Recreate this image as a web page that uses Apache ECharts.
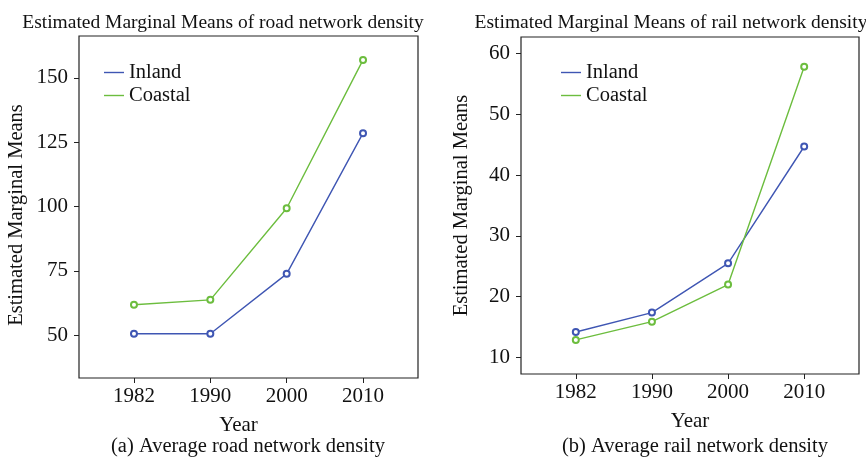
<!DOCTYPE html>
<html>
<head>
<meta charset="utf-8">
<script src="https://cdn.jsdelivr.net/npm/echarts@6/dist/echarts.min.js"></script>
<style>
  html, body { margin: 0; padding: 0; background: #fff; }
  #chart { width: 866px; height: 457px; }
</style>
</head>
<body>
<div id="chart"></div>
<script>
// data
const years = ['1982', '1990', '2000', '2010']
const roadInland = [50.5, 50.5, 73.8, 128.5]
const roadCoastal = [61.8, 63.7, 99.3, 157]
const railInland = [14.2, 17.4, 25.5, 44.7]
const railCoastal = [12.9, 15.9, 22.0, 57.8]
const roadTicks = [50, 75, 100, 125, 150]
const railTicks = [10, 20, 30, 40, 50, 60]

const blue = '#3f56b3'
const green = '#6cbd3e'
const font = 'Liberation Serif'
const txt = '#111'

const idx = years.map((y, i) => i)
const pairs = arr => arr.map((v, i) => [i, v])

const xAxisOf = (gi) => ({
  type: 'value',
  gridIndex: gi,
  min: -0.72,
  max: 3.72,
  splitLine: {show: false},
  axisLine: {show: false, onZero: false},
  axisTick: {show: true, customValues: idx, length: 5, lineStyle: {color: '#222'}},
  axisLabel: {
    customValues: idx,
    formatter: v => years[Math.round(v)],
    color: txt, fontFamily: font, fontSize: 21, margin: 8
  },
  name: 'Year',
  nameLocation: 'middle',
  nameGap: 37,
  nameTextStyle: {color: txt, fontFamily: font, fontSize: 21, padding: gi === 0 ? [0, 20, 0, 0] : [0, 0, 0, 0]}
})

const yAxisOf = (gi, min, max, ticks, gap, pad) => ({
  type: 'value',
  gridIndex: gi,
  min: min,
  max: max,
  splitLine: {show: false},
  axisLine: {show: false, onZero: false},
  axisTick: {show: true, customValues: ticks, length: 5, lineStyle: {color: '#222'}},
  axisLabel: {customValues: ticks, color: txt, fontFamily: font, fontSize: 21, margin: 11},
  name: 'Estimated Marginal Means',
  nameLocation: 'middle',
  nameRotate: 90,
  nameGap: gap,
  nameTextStyle: {color: txt, fontFamily: font, fontSize: 20.5, padding: pad}
})

const lineSeries = (name, data, color, gi) => ({
  name: name,
  type: 'line',
  xAxisIndex: gi,
  yAxisIndex: gi,
  data: pairs(data),
  symbol: 'emptyCircle',
  symbolSize: 6,
  lineStyle: {color: color, width: 1.4},
  itemStyle: {color: color, borderWidth: 1.6},
  animation: false
})

const legendOf = (left) => ({
  left: left,
  top: 62,
  padding: 0,
  orient: 'vertical',
  data: ['Inland', 'Coastal'],
  icon: 'rect',
  itemWidth: 20,
  itemHeight: 1.4,
  itemGap: 2,
  selectedMode: false,
  textStyle: {color: txt, fontFamily: font, fontSize: 20.5, lineHeight: 20, padding: [0, 0, 0, 0]}
})

let chart = echarts.init(document.getElementById('chart'))
chart.setOption({
  backgroundColor: '#fff',
  animation: false,
  title: [
    {text: 'Estimated Marginal Means of road network density', left: 218, top: 8, textAlign: 'center',
      textStyle: {color: txt, fontFamily: font, fontSize: 19.5, fontWeight: 'normal'}},
    {text: 'Estimated Marginal Means of rail network density', left: 666, top: 8, textAlign: 'center',
      textStyle: {color: txt, fontFamily: font, fontSize: 19.5, fontWeight: 'normal'}},
    {text: '(a) Average road network density', left: 243, top: 431, textAlign: 'center',
      textStyle: {color: txt, fontFamily: font, fontSize: 20.5, fontWeight: 'normal'}},
    {text: '(b) Average rail network density', left: 690, top: 431, textAlign: 'center',
      textStyle: {color: txt, fontFamily: font, fontSize: 20.5, fontWeight: 'normal'}}
  ],
  legend: [legendOf(104), legendOf(561)],
  grid: [
    {left: 79, top: 36, width: 339, height: 342, show: true, borderColor: '#222', borderWidth: 1.2, backgroundColor: 'transparent'},
    {left: 521, top: 37, width: 338, height: 337, show: true, borderColor: '#222', borderWidth: 1.2, backgroundColor: 'transparent'}
  ],
  xAxis: [xAxisOf(0), xAxisOf(1)],
  yAxis: [
    yAxisOf(0, 33.3, 166.3, roadTicks, 52, [0, 16, 0, 0]),
    yAxisOf(1, 7.3, 62.7, railTicks, 49, [0, 0, 0, 0])
  ],
  series: [
    lineSeries('Inland', roadInland, blue, 0),
    lineSeries('Coastal', roadCoastal, green, 0),
    lineSeries('Inland', railInland, blue, 1),
    lineSeries('Coastal', railCoastal, green, 1)
  ]
})
</script>
</body>
</html>
